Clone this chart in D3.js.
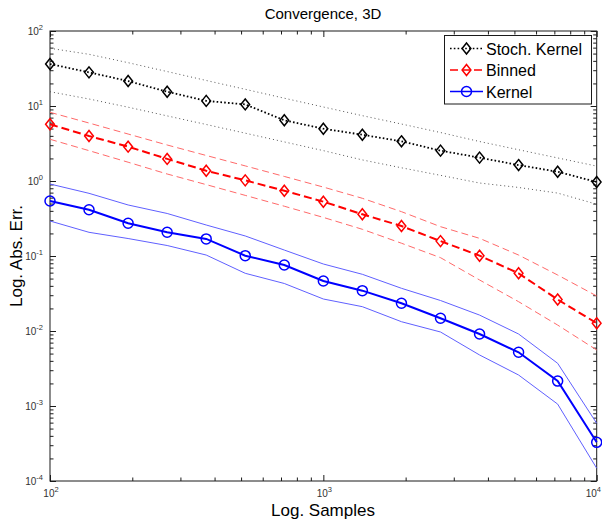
<!DOCTYPE html>
<html>
<head>
<meta charset="utf-8">
<script src="https://cdn.jsdelivr.net/npm/d3@7"></script>
<style>
  html, body { margin: 0; padding: 0; background: #fff; }
  svg { display: block; font-family: Arial, "Liberation Sans", Helvetica, sans-serif; }
</style>
</head>
<body>
<svg id="chart" width="602" height="523"></svg>
<script>
// ---- data ----
const samples = [100, 138.9, 193.1, 268.3, 372.8, 517.9, 719.7, 1000, 1389, 1931, 2683, 3728, 5179, 7197, 10000];

const stochMean  = [36.3, 28.1, 21.5, 15.5, 11.7, 10.5, 6.45, 4.98, 4.14, 3.38, 2.54, 2.05, 1.63, 1.33, 0.97];
const stochUpper = [58.8, 48.9, 37.8, 28.8, 21.9, 16.7, 12.7, 9.7, 7.43, 5.75, 4.43, 3.36, 2.61, 2.03, 1.58];
const stochLower = [15.5, 12.4, 9.64, 7.38, 5.67, 4.34, 3.32, 2.54, 1.91, 1.50, 1.19, 0.94, 0.82, 0.69, 0.49];

const binnedMean  = [5.7, 3.98, 2.87, 1.97, 1.37, 1.02, 0.743, 0.53, 0.36, 0.251, 0.158, 0.101, 0.0588, 0.0263, 0.0127];
const binnedUpper = [8.24, 5.93, 4.23, 3.02, 2.19, 1.59, 1.15, 0.83, 0.588, 0.39, 0.246, 0.172, 0.103, 0.0558, 0.0293];
const binnedLower = [3.6, 2.54, 1.78, 1.24, 0.895, 0.643, 0.461, 0.327, 0.227, 0.148, 0.095, 0.0479, 0.0246, 0.0120, 0.00558];

const kernelMean  = [0.541, 0.414, 0.273, 0.207, 0.169, 0.101, 0.0759, 0.0464, 0.0345, 0.0234, 0.0148, 0.00912, 0.0052, 0.00215, 0.000328];
const kernelUpper = [0.912, 0.685, 0.479, 0.369, 0.259, 0.185, 0.120, 0.0782, 0.057, 0.0371, 0.0255, 0.0163, 0.00912, 0.00371, 0.000588];
const kernelLower = [0.293, 0.207, 0.171, 0.138, 0.103, 0.0588, 0.043, 0.0267, 0.0211, 0.0133, 0.0097, 0.00479, 0.00259, 0.00106, 0.000148];

const seriesNames = ["Stoch. Kernel", "Binned", "Kernel"];
const xTickExponents = [2, 3, 4];
const yTickExponents = [-4, -3, -2, -1, 0, 1, 2];

const titleText = "Convergence, 3D";
const xLabelText = "Log. Samples";
const yLabelText = "Log. Abs. Err.";

// ---- layout ----
const svg = d3.select("#chart");
const L = 50, R = 596.7, T = 31, B = 481;

const x = d3.scaleLog().domain([100, 10000]).range([L, R]);
const y = d3.scaleLog().domain([1e-4, 1e2]).range([B, T]);

const xMajor = xTickExponents.map(e => Math.pow(10, e));
const yMajor = yTickExponents.map(e => Math.pow(10, e));
function minorTicks(exps) {
  const out = [];
  for (let i = 0; i < exps.length - 1; i++) {
    for (let k = 2; k <= 9; k++) out.push(k * Math.pow(10, exps[i]));
  }
  return out;
}
const xMinor = minorTicks(xTickExponents);
const yMinor = minorTicks(yTickExponents);

const MAJ = 6, MIN = 3.5;
const axisColor = "#1a1a1a";

function drawTicks(axisGen, transform) {
  const g = svg.append("g").attr("transform", transform).call(axisGen);
  g.select(".domain").remove();
  g.selectAll("line").attr("stroke", axisColor).attr("stroke-width", 1);
  g.selectAll("text").remove();
  return g;
}
drawTicks(d3.axisBottom(x).tickValues(xMajor).tickSize(-MAJ).tickFormat(""), `translate(0,${B})`);
drawTicks(d3.axisBottom(x).tickValues(xMinor).tickSize(-MIN).tickFormat(""), `translate(0,${B})`);
drawTicks(d3.axisTop(x).tickValues(xMajor).tickSize(-MAJ).tickFormat(""), `translate(0,${T})`);
drawTicks(d3.axisTop(x).tickValues(xMinor).tickSize(-MIN).tickFormat(""), `translate(0,${T})`);
drawTicks(d3.axisLeft(y).tickValues(yMajor).tickSize(-MAJ).tickFormat(""), `translate(${L},0)`);
drawTicks(d3.axisLeft(y).tickValues(yMinor).tickSize(-MIN).tickFormat(""), `translate(${L},0)`);
drawTicks(d3.axisRight(y).tickValues(yMajor).tickSize(-MAJ).tickFormat(""), `translate(${R},0)`);
drawTicks(d3.axisRight(y).tickValues(yMinor).tickSize(-MIN).tickFormat(""), `translate(${R},0)`);

svg.append("rect")
  .attr("x", L).attr("y", T).attr("width", R - L).attr("height", B - T)
  .attr("fill", "none").attr("stroke", axisColor).attr("stroke-width", 1);

// tick labels (10^n)
const tickFont = 10, expFont = 7.5, tickColor = "#333";
yTickExponents.forEach(e => {
  const t = svg.append("text")
    .attr("x", 43).attr("y", y(Math.pow(10, e)) + 3.5)
    .attr("text-anchor", "end")
    .attr("fill", tickColor).attr("font-size", tickFont);
  t.append("tspan").text("10");
  t.append("tspan").attr("font-size", expFont).attr("dy", -5).text(e);
});
xTickExponents.forEach((e, i) => {
  const last = i === xTickExponents.length - 1;
  const t = svg.append("text")
    .attr("x", last ? 601 : x(Math.pow(10, e)) + 1).attr("y", 497)
    .attr("text-anchor", last ? "end" : "middle")
    .attr("fill", tickColor).attr("font-size", tickFont);
  t.append("tspan").text("10");
  t.append("tspan").attr("font-size", expFont).attr("dy", -5).text(e);
});

// titles
svg.append("text").attr("x", 323).attr("y", 19).attr("text-anchor", "middle")
  .attr("font-size", 15).attr("fill", "#000").text(titleText);
svg.append("text").attr("x", 323).attr("y", 516).attr("text-anchor", "middle")
  .attr("font-size", 17).attr("fill", "#000").text(xLabelText);
svg.append("text").attr("transform", "translate(22,256) rotate(-90)")
  .attr("text-anchor", "middle")
  .attr("font-size", 17).attr("fill", "#000").text(yLabelText);

// ---- lines ----
const line = d3.line().x((d, i) => x(samples[i])).y(d => y(d));
const plot = svg.append("g");

function band(values, color, dash, width) {
  plot.append("path").datum(values).attr("d", line)
    .attr("fill", "none").attr("stroke", color).attr("stroke-width", width)
    .attr("stroke-dasharray", dash);
}
band(stochUpper, "#555", "1,3", 1);
band(stochLower, "#555", "1,3", 1);
band(binnedUpper, "#ff6a6a", "7,4", 1);
band(binnedLower, "#ff6a6a", "7,4", 1);
band(kernelUpper, "#6060ff", null, 1);
band(kernelLower, "#6060ff", null, 1);

band(stochMean, "#000", "1.6,2.2", 1.8);
band(binnedMean, "#ff0000", "8,4", 2);
band(kernelMean, "#0000ff", null, 2);

const diamond = (cx, cy, r) => `M${cx},${cy - r}L${cx + r * 0.8},${cy}L${cx},${cy + r}L${cx - r * 0.8},${cy}Z`;
plot.append("g").selectAll("path").data(stochMean).join("path")
  .attr("d", (d, i) => diamond(x(samples[i]), y(d), 5.5))
  .attr("fill", "none").attr("stroke", "#000").attr("stroke-width", 1.5);
plot.append("g").selectAll("path").data(binnedMean).join("path")
  .attr("d", (d, i) => diamond(x(samples[i]), y(d), 5.5))
  .attr("fill", "none").attr("stroke", "#ff0000").attr("stroke-width", 1.5);
plot.append("g").selectAll("circle").data(kernelMean).join("circle")
  .attr("cx", (d, i) => x(samples[i])).attr("cy", d => y(d)).attr("r", 5)
  .attr("fill", "none").attr("stroke", "#0000ff").attr("stroke-width", 1.5);

// ---- legend ----
const lg = svg.append("g");
lg.append("rect").attr("x", 444.5).attr("y", 35.5).attr("width", 147).attr("height", 68.5)
  .attr("fill", "#fff").attr("stroke", axisColor).attr("stroke-width", 1);
const rowsY = [48.5, 70, 91.5];
const legendStyles = [
  { color: "#000", dash: "1.6,2.2", marker: "diamond" },
  { color: "#ff0000", dash: "8,4", marker: "diamond" },
  { color: "#0000ff", dash: null, marker: "circle" }
];
seriesNames.forEach((name, i) => {
  const s = legendStyles[i], yy = rowsY[i];
  lg.append("line").attr("x1", 450).attr("x2", 483).attr("y1", yy).attr("y2", yy)
    .attr("stroke", s.color).attr("stroke-width", 1.5).attr("stroke-dasharray", s.dash);
  if (s.marker === "diamond") {
    lg.append("path").attr("d", diamond(466.5, yy, 5.5)).attr("fill", "none")
      .attr("stroke", s.color).attr("stroke-width", 1.5);
  } else {
    lg.append("circle").attr("cx", 466.5).attr("cy", yy).attr("r", 5).attr("fill", "none")
      .attr("stroke", s.color).attr("stroke-width", 1.5);
  }
  lg.append("text").attr("x", 486).attr("y", yy + 6).attr("font-size", 16)
    .attr("fill", "#000").text(name);
});
</script>
</body>
</html>
